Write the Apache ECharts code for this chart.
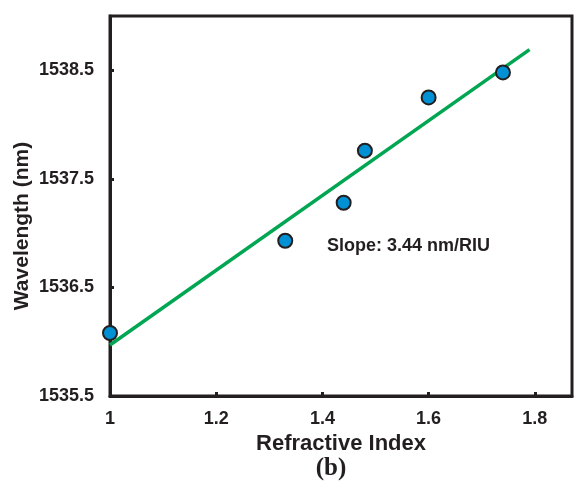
<!DOCTYPE html>
<html>
<head>
<meta charset="utf-8">
<script src="https://cdn.jsdelivr.net/npm/echarts@6/dist/echarts.min.js"></script>
<style>
  html, body { margin: 0; padding: 0; background: #fff; }
  #container-chart { width: 575px; height: 489px; }
</style>
</head>
<body>
<div id="container-chart"></div>
<script>
// measured points
var refIndex = [1, 1.33, 1.44, 1.48, 1.6, 1.74];
var wavelength = [1536.08, 1536.93, 1537.28, 1537.76, 1538.25, 1538.48];
// linear fit line endpoints
var fitX = [1, 1.79];
var fitY = [1535.97, 1538.69];

var ink = '#231f20';

drawChart('chart');

function drawChart(element) {
  var dom = document.getElementById('container-' + element);
  var myChart = echarts.init(dom);
  var points = refIndex.map(function (x, i) { return [x, wavelength[i]]; });
  var fit = fitX.map(function (x, i) { return [x, fitY[i]]; });
  var option = {
    animation: false,
    grid: {
      left: 110, right: 3, top: 16, bottom: 93,
      show: true, borderColor: ink, borderWidth: 3
    },
    xAxis: {
      type: 'value',
      min: 1, max: 1.87, interval: 0.2,
      name: 'Refractive Index',
      nameLocation: 'middle',
      nameGap: 34,
      nameTextStyle: { fontFamily: 'Liberation Sans', fontWeight: 'bold', fontSize: 22, color: ink },
      axisLine: { show: true, lineStyle: { color: ink, width: 3 } },
      axisTick: { show: true, inside: true, length: 4, lineStyle: { color: ink, width: 3 } },
      axisLabel: {
        showMaxLabel: false, margin: 14,
        fontFamily: 'Liberation Sans', fontWeight: 'bold', fontSize: 18, color: ink
      },
      splitLine: { show: false }
    },
    yAxis: {
      type: 'value',
      min: 1535.5, max: 1539, interval: 1,
      axisLine: { show: true, lineStyle: { color: ink, width: 3 } },
      axisTick: { show: true, inside: true, length: 4, lineStyle: { color: ink, width: 3 } },
      axisLabel: {
        showMaxLabel: false, margin: 16,
        formatter: function (v) { return v.toFixed(1); },
        fontFamily: 'Liberation Sans', fontWeight: 'bold', fontSize: 18, color: ink
      },
      splitLine: { show: false }
    },
    graphic: [
      {
        type: 'text', left: 327, top: 237,
        style: { text: 'Slope: 3.44 nm/RIU', fontFamily: 'Liberation Sans', fontWeight: 'bold', fontSize: 18, fill: ink }
      },
      {
        type: 'text', x: 22, y: 226, rotation: Math.PI / 2,
        style: { text: 'Wavelength (nm)', fontFamily: 'Liberation Sans', fontWeight: 'bold', fontSize: 21, fill: ink, align: 'center', verticalAlign: 'middle' }
      },
      {
        type: 'text', x: 331, y: 469,
        style: { text: '(b)', fontFamily: 'Liberation Serif', fontWeight: 'bold', fontSize: 25, fill: ink, align: 'center', verticalAlign: 'middle' }
      }
    ],
    series: [
      {
        type: 'line',
        data: fit,
        symbol: 'none',
        lineStyle: { color: '#00a651', width: 3.5 },
        z: 2
      },
      {
        type: 'scatter',
        data: points,
        symbol: 'circle',
        symbolSize: 14,
        clip: false,
        itemStyle: { color: '#0091d5', borderColor: ink, borderWidth: 2, opacity: 1 },
        z: 3
      }
    ]
  };
  myChart.setOption(option, true);
}
</script>
</body>
</html>
